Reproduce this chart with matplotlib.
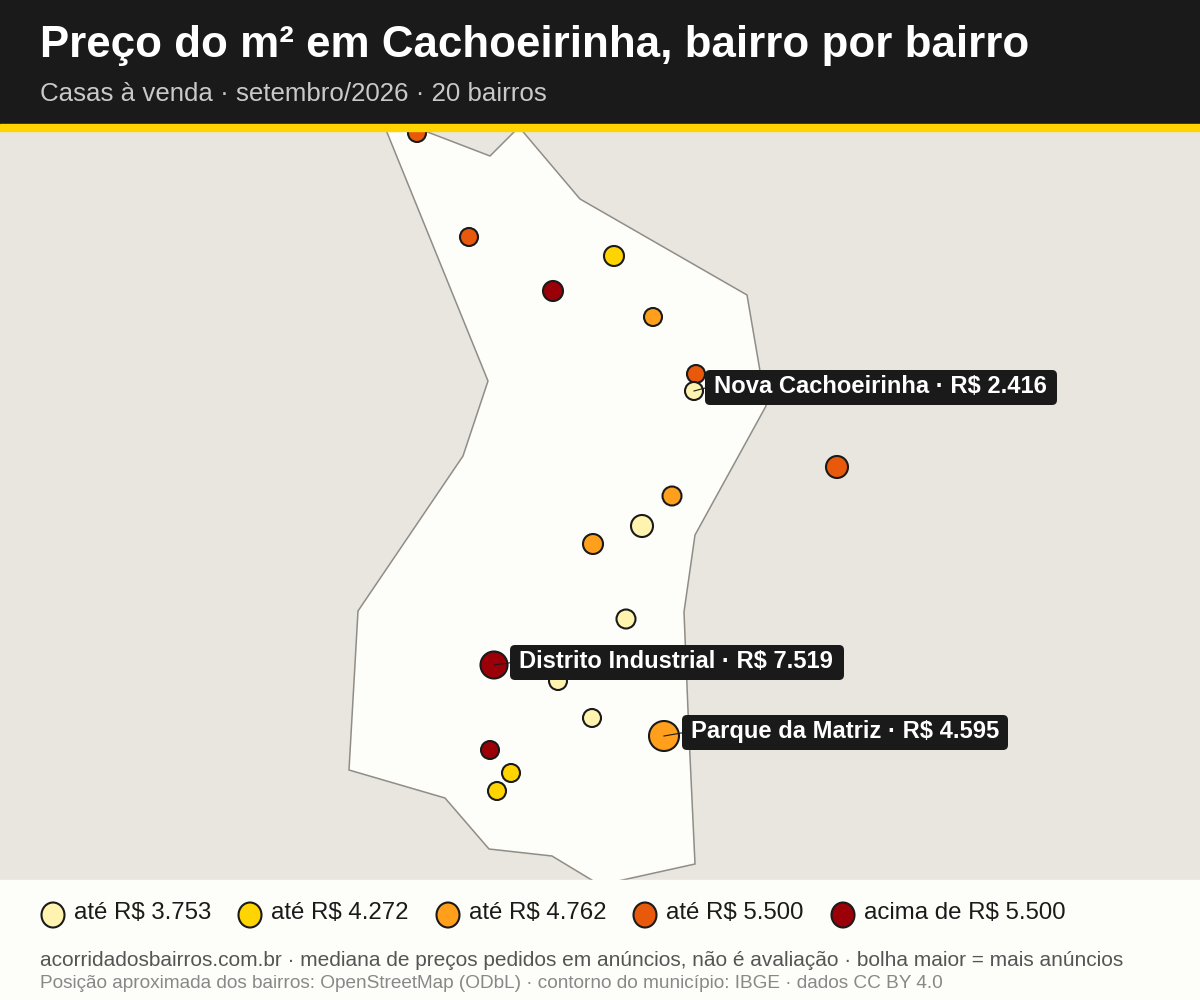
import matplotlib
matplotlib.use("Agg")
import matplotlib.pyplot as plt
from matplotlib.patches import Rectangle, Polygon, FancyBboxPatch, Ellipse

plt.rcParams['font.family'] = ['Liberation Sans', 'DejaVu Sans']

# contorno do municipio (pixels)
outline_x = [384, 488, 463, 358, 349, 445, 489, 552, 600, 695, 689, 684, 695, 766, 747, 580, 519, 490, 417]
outline_y = [125, 381, 456, 611, 770, 798, 849, 856, 885, 864, 735, 612, 535, 406, 295, 199, 127, 156, 128]

# bairros: posicao, raio da bolha, faixa de preco
bairro_x = [417, 469, 614, 553, 653, 696, 694, 837, 672, 642, 593, 626, 558, 494, 592, 664, 490, 511, 497]
bairro_y = [133, 237, 256, 291, 317, 374, 391, 467, 496, 526, 544, 619, 681, 665, 718, 736, 750, 773, 791]
bairro_r = [9, 9, 10, 10, 9, 9, 9, 11, 9.5, 11, 10, 9.5, 9, 13.5, 9, 15, 9, 9, 9]
bairro_faixa = [3, 3, 1, 4, 2, 3, 0, 3, 2, 0, 2, 0, 0, 4, 0, 2, 4, 1, 1]

faixa_cores = ["#fff3b0", "#ffd400", "#ff9f1c", "#e8590c", "#9b0008"]
faixa_labels = ["até R$ 3.753", "até R$ 4.272", "até R$ 4.762", "até R$ 5.500", "acima de R$ 5.500"]
legenda_x = [53, 250, 448, 645, 843]

# destaques: nome, ponto, caixa (esq, topo, dir, base)
destaque_textos = ["Nova Cachoeirinha · R$ 2.416", "Distrito Industrial · R$ 7.519", "Parque da Matriz · R$ 4.595"]
destaque_pontos = [(694, 391), (494, 665), (664, 736)]
destaque_caixas = [(705, 370, 1057, 405), (510, 645, 844, 680), (682, 715, 1008, 750)]

INK = "#1a1a1a"

fig = plt.figure(figsize=(12, 10), dpi=100)
ax = fig.add_axes([0, 0, 1, 1])
ax.set_xlim(0, 1200)
ax.set_ylim(1000, 0)
ax.axis("off")

ax.add_patch(Rectangle((0, 0), 1200, 1000, color="#e9e6df", zorder=0))
ax.add_patch(Polygon(list(zip(outline_x, outline_y)), closed=True, facecolor="#fdfdf9",
                     edgecolor="#8f8d86", linewidth=1.1, zorder=1))

for i in range(len(bairro_x)):
    ax.add_patch(Ellipse((bairro_x[i], bairro_y[i]), bairro_r[i] * 2, bairro_r[i] * 2,
                         facecolor=faixa_cores[bairro_faixa[i]], edgecolor=INK, linewidth=1.5, zorder=2))

for i in range(len(destaque_textos)):
    px, py = destaque_pontos[i]
    l, t, r, b = destaque_caixas[i]
    ax.plot([px, l + 2], [py, (t + b) / 2], color=INK, linewidth=0.8, zorder=3)
    ax.add_patch(FancyBboxPatch((l + 5, t + 5), r - l - 10, b - t - 10,
                                boxstyle="round,pad=5,rounding_size=5",
                                facecolor=INK, edgecolor="none", zorder=4))
    ax.text(l + 9, (t + b) / 2 - 1, destaque_textos[i], color="white", fontsize=17.15, fontweight="bold",
            va="center", ha="left", zorder=5)

# cabecalho
ax.add_patch(Rectangle((0, 0), 1200, 124, color=INK, zorder=6))
ax.add_patch(Rectangle((0, 124), 1200, 7, color="#ffd400", zorder=6))
ax.text(40, 45, "Preço do m² em Cachoeirinha, bairro por bairro", color="white", fontsize=31.6,
        fontweight="bold", va="center", ha="left", zorder=7)
ax.text(40, 94, "Casas à venda · setembro/2026 · 20 bairros", color="#c9c9c9", fontsize=18.6,
        va="center", ha="left", zorder=7)

# rodape e legenda
ax.add_patch(Rectangle((0, 880), 1200, 120, color="#fdfdf9", zorder=6))
for i in range(len(faixa_labels)):
    ax.add_patch(Ellipse((legenda_x[i], 915), 23, 25, facecolor=faixa_cores[i], edgecolor=INK,
                         linewidth=1.5, zorder=7))
    ax.text(legenda_x[i] + 21, 913, faixa_labels[i], color=INK, fontsize=17.3, va="center", ha="left", zorder=7)

ax.text(40, 961, "acorridadosbairros.com.br · mediana de preços pedidos em anúncios, não é avaliação · bolha maior = mais anúncios",
        color="#555555", fontsize=15.07, va="center", ha="left", zorder=7)
ax.text(40, 984, "Posição aproximada dos bairros: OpenStreetMap (ODbL) · contorno do município: IBGE · dados CC BY 4.0",
        color="#888888", fontsize=13.73, va="center", ha="left", zorder=7)

fig.savefig("out.png", dpi=100)
